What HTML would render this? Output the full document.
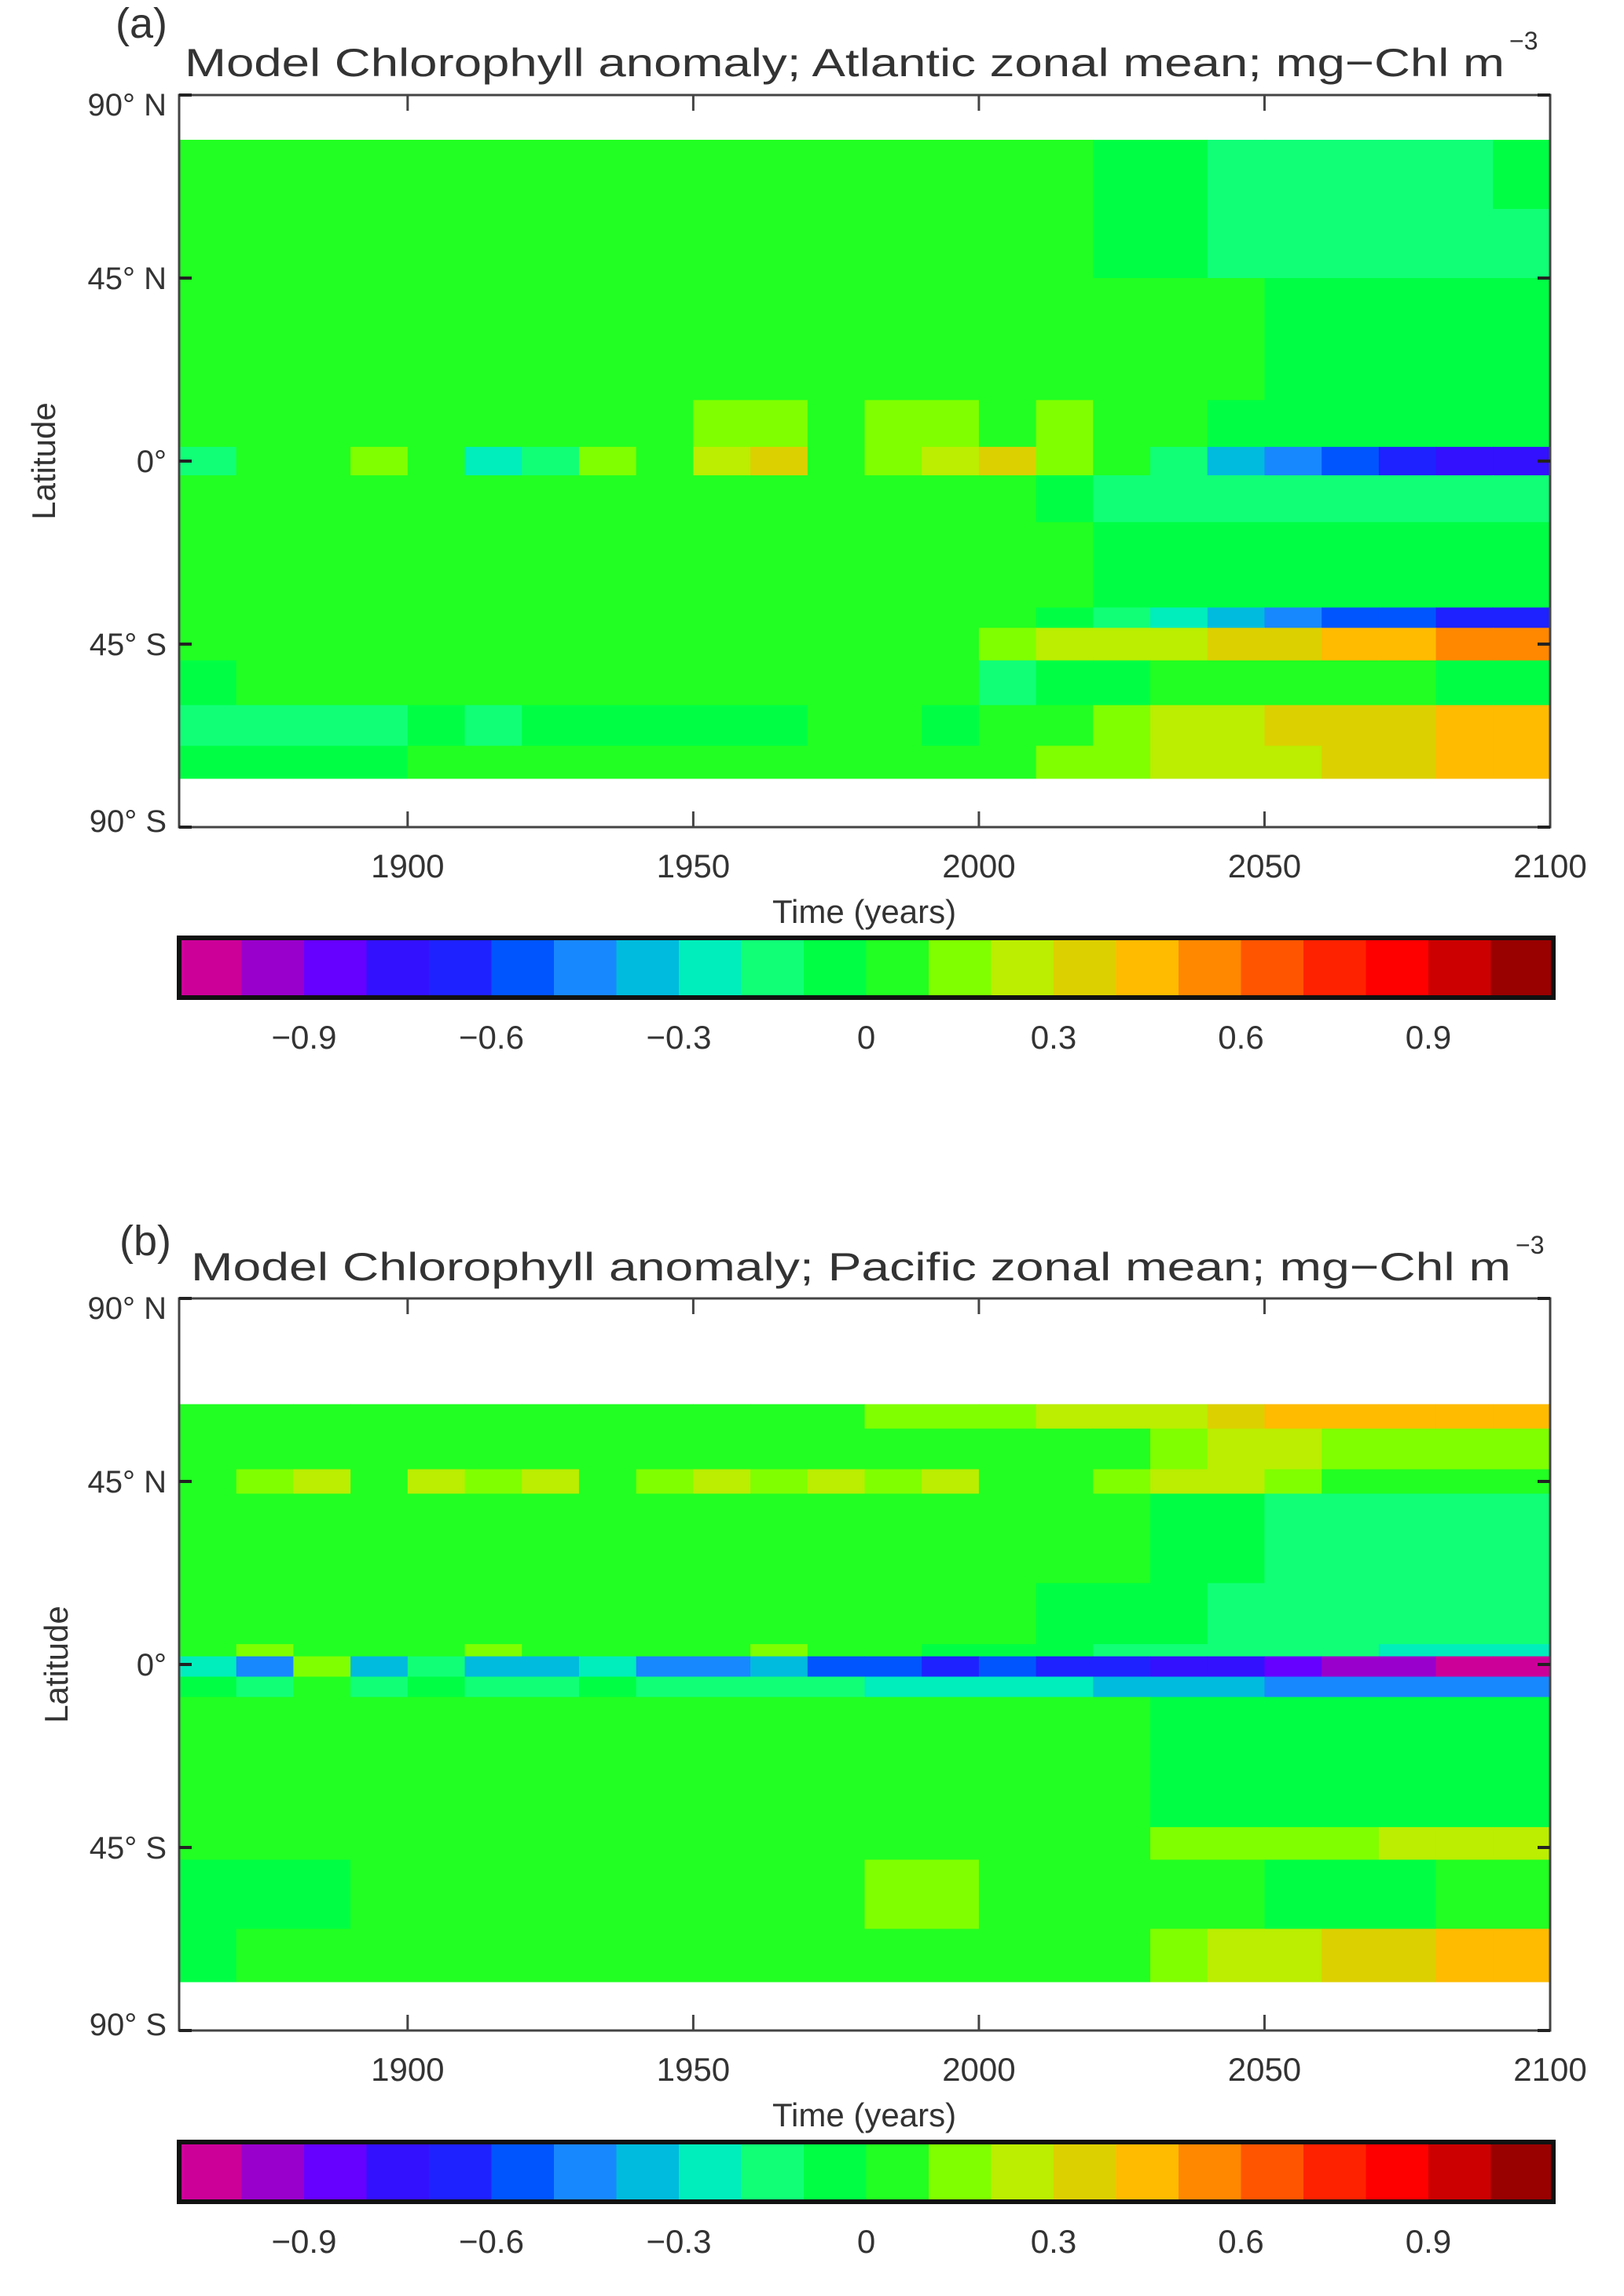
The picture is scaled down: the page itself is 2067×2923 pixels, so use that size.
<!DOCTYPE html>
<html><head><meta charset="utf-8"><style>
html,body{margin:0;padding:0;background:#fff;}
svg{display:block;}
text{font-family:"Liberation Sans",sans-serif;fill:#333;}
</style></head><body>
<svg id="fig" xmlns="http://www.w3.org/2000/svg" width="2067" height="2923" viewBox="0 0 2067 2923">
<rect width="2067" height="2923" fill="#fff"/>
<g id="panelA"></g>
<g id="panelB"></g>
</svg>
<script>
// ---- shared chart data ----
const decades = [1860,1870,1880,1890,1900,1910,1920,1930,1940,1950,1960,1970,1980,1990,2000,2010,2020,2030,2040,2050,2060,2070,2080,2090];
const yearTicks = [1900,1950,2000,2050,2100];
const latTicks = [90,45,0,-45,-90];
const latTickLabels = ["90° N","45° N","0°","45° S","90° S"];
const cbarColors = ["#cc0099","#9900cc","#6600ff","#3311ff","#1e22ff","#0055ff","#1888ff","#00bbdd","#00eebb","#11ff77","#00ff44","#22ff22","#80ff00","#bbee00","#ddd000","#ffbb00","#ff8800","#ff5500","#ff2200","#ff0000","#cc0000","#990000"];
const cbarTicks = [-0.9,-0.6,-0.3,0,0.3,0.6,0.9];
const cbarTickLabels = ["−0.9","−0.6","−0.3","0","0.3","0.6","0.9"];

// ---- panel a (Atlantic): latitude band edges (top,bottom) and decadal anomalies ----
const atlBands = [[79,62],[62,45],[45,15],[15,3.5],[3.5,-3.5],[-3.5,-15],[-15,-36],[-36,-41],[-41,-49],[-49,-60],[-60,-70],[-70,-78]];
const atlRow0  = [0.05,0.05,0.05,0.05,0.05,0.05,0.05,0.05,0.05,0.05,0.05,0.05,0.05,0.05,0.05,0.05,-0.05,-0.05,-0.15,-0.15,-0.15,-0.15,-0.15,-0.05];
const atlRow1  = [0.05,0.05,0.05,0.05,0.05,0.05,0.05,0.05,0.05,0.05,0.05,0.05,0.05,0.05,0.05,0.05,-0.05,-0.05,-0.15,-0.15,-0.15,-0.15,-0.15,-0.15];
const atlRow2  = [0.05,0.05,0.05,0.05,0.05,0.05,0.05,0.05,0.05,0.05,0.05,0.05,0.05,0.05,0.05,0.05,0.05,0.05,0.05,-0.05,-0.05,-0.05,-0.05,-0.05];
const atlRow3  = [0.05,0.05,0.05,0.05,0.05,0.05,0.05,0.05,0.05,0.15,0.15,0.05,0.15,0.15,0.05,0.15,0.05,0.05,-0.05,-0.05,-0.05,-0.05,-0.05,-0.05];
const atlRow4  = [-0.15,0.05,0.05,0.15,0.05,-0.25,-0.15,0.15,0.05,0.25,0.35,0.05,0.15,0.25,0.35,0.15,0.05,-0.15,-0.35,-0.45,-0.55,-0.65,-0.75,-0.75];
const atlRow5  = [0.05,0.05,0.05,0.05,0.05,0.05,0.05,0.05,0.05,0.05,0.05,0.05,0.05,0.05,0.05,-0.05,-0.15,-0.15,-0.15,-0.15,-0.15,-0.15,-0.15,-0.15];
const atlRow6  = [0.05,0.05,0.05,0.05,0.05,0.05,0.05,0.05,0.05,0.05,0.05,0.05,0.05,0.05,0.05,0.05,-0.05,-0.05,-0.05,-0.05,-0.05,-0.05,-0.05,-0.05];
const atlRow7  = [0.05,0.05,0.05,0.05,0.05,0.05,0.05,0.05,0.05,0.05,0.05,0.05,0.05,0.05,0.05,-0.05,-0.15,-0.25,-0.35,-0.45,-0.55,-0.55,-0.65,-0.65];
const atlRow8  = [0.05,0.05,0.05,0.05,0.05,0.05,0.05,0.05,0.05,0.05,0.05,0.05,0.05,0.05,0.15,0.25,0.25,0.25,0.35,0.35,0.45,0.45,0.55,0.55];
const atlRow9  = [-0.05,0.05,0.05,0.05,0.05,0.05,0.05,0.05,0.05,0.05,0.05,0.05,0.05,0.05,-0.15,-0.05,-0.05,0.05,0.05,0.05,0.05,0.05,-0.05,-0.05];
const atlRow10 = [-0.15,-0.15,-0.15,-0.15,-0.05,-0.15,-0.05,-0.05,-0.05,-0.05,-0.05,0.05,0.05,-0.05,0.05,0.05,0.15,0.25,0.25,0.35,0.35,0.35,0.45,0.45];
const atlRow11 = [-0.05,-0.05,-0.05,-0.05,0.05,0.05,0.05,0.05,0.05,0.05,0.05,0.05,0.05,0.05,0.05,0.15,0.15,0.25,0.25,0.25,0.35,0.35,0.45,0.45];
const atlRows = [atlRow0,atlRow1,atlRow2,atlRow3,atlRow4,atlRow5,atlRow6,atlRow7,atlRow8,atlRow9,atlRow10,atlRow11];

// ---- panel b (Pacific) ----
const pacBands = [[64,58],[58,48],[48,42],[42,20],[20,5],[5,2],[2,-3],[-3,-8],[-8,-40],[-40,-48],[-48,-65],[-65,-78]];
const pacRow0  = [0.05,0.05,0.05,0.05,0.05,0.05,0.05,0.05,0.05,0.05,0.05,0.05,0.15,0.15,0.15,0.25,0.25,0.25,0.35,0.45,0.45,0.45,0.45,0.45];
const pacRow1  = [0.05,0.05,0.05,0.05,0.05,0.05,0.05,0.05,0.05,0.05,0.05,0.05,0.05,0.05,0.05,0.05,0.05,0.15,0.25,0.25,0.15,0.15,0.15,0.15];
const pacRow2  = [0.05,0.15,0.25,0.05,0.25,0.15,0.25,0.05,0.15,0.25,0.15,0.25,0.15,0.25,0.05,0.05,0.15,0.25,0.25,0.15,0.05,0.05,0.05,0.05];
const pacRow3  = [0.05,0.05,0.05,0.05,0.05,0.05,0.05,0.05,0.05,0.05,0.05,0.05,0.05,0.05,0.05,0.05,0.05,-0.05,-0.05,-0.15,-0.15,-0.15,-0.15,-0.15];
const pacRow4  = [0.05,0.05,0.05,0.05,0.05,0.05,0.05,0.05,0.05,0.05,0.05,0.05,0.05,0.05,0.05,-0.05,-0.05,-0.05,-0.15,-0.15,-0.15,-0.15,-0.15,-0.15];
const pacRow5  = [0.05,0.15,0.05,0.05,0.05,0.15,0.05,0.05,0.05,0.05,0.15,0.05,0.05,-0.05,-0.05,-0.05,-0.15,-0.15,-0.15,-0.15,-0.15,-0.25,-0.25,-0.25];
const pacRow6  = [-0.25,-0.45,0.15,-0.35,-0.15,-0.35,-0.35,-0.25,-0.45,-0.45,-0.35,-0.55,-0.55,-0.65,-0.55,-0.65,-0.65,-0.75,-0.75,-0.85,-0.95,-0.95,-1.05,-1.05];
const pacRow7  = [-0.05,-0.15,0.05,-0.15,-0.05,-0.15,-0.15,-0.05,-0.15,-0.15,-0.15,-0.15,-0.25,-0.25,-0.25,-0.25,-0.35,-0.35,-0.35,-0.45,-0.45,-0.45,-0.45,-0.45];
const pacRow8  = [0.05,0.05,0.05,0.05,0.05,0.05,0.05,0.05,0.05,0.05,0.05,0.05,0.05,0.05,0.05,0.05,0.05,-0.05,-0.05,-0.05,-0.05,-0.05,-0.05,-0.05];
const pacRow9  = [0.05,0.05,0.05,0.05,0.05,0.05,0.05,0.05,0.05,0.05,0.05,0.05,0.05,0.05,0.05,0.05,0.05,0.15,0.15,0.15,0.15,0.25,0.25,0.25];
const pacRow10 = [-0.05,-0.05,-0.05,0.05,0.05,0.05,0.05,0.05,0.05,0.05,0.05,0.05,0.15,0.15,0.05,0.05,0.05,0.05,0.05,-0.05,-0.05,-0.05,0.05,0.05];
const pacRow11 = [-0.05,0.05,0.05,0.05,0.05,0.05,0.05,0.05,0.05,0.05,0.05,0.05,0.05,0.05,0.05,0.05,0.05,0.15,0.25,0.25,0.35,0.35,0.45,0.45];
const pacRows = [pacRow0,pacRow1,pacRow2,pacRow3,pacRow4,pacRow5,pacRow6,pacRow7,pacRow8,pacRow9,pacRow10,pacRow11];

const NS = "http://www.w3.org/2000/svg";
function mk(tag, attrs, parent){ const e=document.createElementNS(NS,tag); for(const k in attrs) e.setAttribute(k,attrs[k]); parent.appendChild(e); return e; }
function colorFor(v){ let i=Math.floor((v+1.1)/0.1+1e-9); i=Math.max(0,Math.min(cbarColors.length-1,i)); return cbarColors[i]; }

function drawPanel(g, cfg){
  const L=228, R=1973, T=cfg.top, B=cfg.top+932;
  const x = yr => L + (yr-1860)/(2100-1860)*(R-L);
  const y = lat => T + (90-lat)/180*(B-T);
  const cb = v => 228 + (v+1.1)/2.2*(1977-228);

  const lab = mk('text',{x:cfg.labX,y:cfg.labY,'font-size':54},g);
  
  
  lab.textContent=cfg.label;

  const title = mk('text',{x:cfg.titleX,y:cfg.titleY,'font-size':50,textLength:cfg.titleW,lengthAdjust:'spacingAndGlyphs'},g);
  
  
  title.textContent=cfg.title;
  const sup = mk('text',{x:cfg.titleX+cfg.titleW+6,y:cfg.titleY-34,'font-size':32},g);
  
  
  sup.textContent='−3';

  const hm = mk('g',{},g);
  
  
  cfg.bands.forEach((band,bi)=>{
    const row = cfg.rows[bi];
    decades.forEach((d,di)=>{
      const y0=y(band[0]), y1=y(band[1]), x0=x(d), x1=x(d+10);
      const r = mk('rect',{x:x0.toFixed(2),y:y0.toFixed(2),width:(x1-x0+0.6).toFixed(2),height:(y1-y0+0.6).toFixed(2),fill:colorFor(row[di])},hm);
      
      
    });
  });

  const frame = mk('rect',{x:L,y:T,width:R-L,height:B-T,fill:'none',stroke:'#444','stroke-width':3},g);
  
  

  yearTicks.forEach(yr=>{
    const xx=x(yr);
    mk('line',{x1:xx,y1:T,x2:xx,y2:T+20,stroke:'#444','stroke-width':3},g);
    mk('line',{x1:xx,y1:B,x2:xx,y2:B-20,stroke:'#444','stroke-width':3},g);
    const t=mk('text',{x:xx,y:B+64,'font-size':42,'text-anchor':'middle'},g);
    
    
    t.textContent=String(yr);
  });
  latTicks.forEach((lt,i)=>{
    const yy=y(lt);
    mk('line',{x1:L,y1:yy,x2:L+16,y2:yy,stroke:'#222','stroke-width':4},g);
    mk('line',{x1:R,y1:yy,x2:R-16,y2:yy,stroke:'#222','stroke-width':4},g);
    const t=mk('text',{x:212,y:yy+14+(lt===90?12:0)+(lt===-90?-8:0),'font-size':40,'text-anchor':'end'},g);
    
    
    t.textContent=latTickLabels[i];
  });

  const xt=mk('text',{x:1100,y:B+122,'font-size':42,'text-anchor':'middle'},g);
  
  
  xt.textContent='Time (years)';
  const yc=(T+B)/2;
  const yt=mk('text',{x:cfg.ylabX,y:yc,'font-size':42,'text-anchor':'middle',transform:`rotate(-90 ${cfg.ylabX} ${yc})`},g);
  
  
  yt.textContent='Latitude';

  const cT=cfg.cbTop, cH=76;
  const cbg=mk('g',{},g);
  
  
  cbarColors.forEach((c,i)=>{
    const v0=-1.1+i*0.1;
    const r=mk('rect',{x:cb(v0).toFixed(2),y:cT,width:(cb(v0+0.1)-cb(v0)+0.5).toFixed(2),height:cH,fill:c},cbg);
    
    
  });
  mk('rect',{x:228,y:cT,width:1977-228,height:cH,fill:'none',stroke:'#111','stroke-width':6},cbg);
  cbarTicks.forEach((v,i)=>{
    const t=mk('text',{x:cb(v),y:cT+cH+65,'font-size':42,'text-anchor':'middle'},g);
    
    
    t.textContent=cbarTickLabels[i];
  });
}

drawPanel(document.getElementById('panelA'),{top:121,bands:atlBands,rows:atlRows,label:'(a)',labX:147,labY:48,
  title:'Model Chlorophyll anomaly; Atlantic zonal mean; mg−Chl m',titleX:235,titleY:97,titleW:1680,ylabX:70,cbTop:1194});
drawPanel(document.getElementById('panelB'),{top:1653,bands:pacBands,rows:pacRows,label:'(b)',labX:152,labY:1598,
  title:'Model Chlorophyll anomaly; Pacific zonal mean; mg−Chl m',titleX:243,titleY:1630,titleW:1680,ylabX:86,cbTop:2727});
</script>
</body></html>
